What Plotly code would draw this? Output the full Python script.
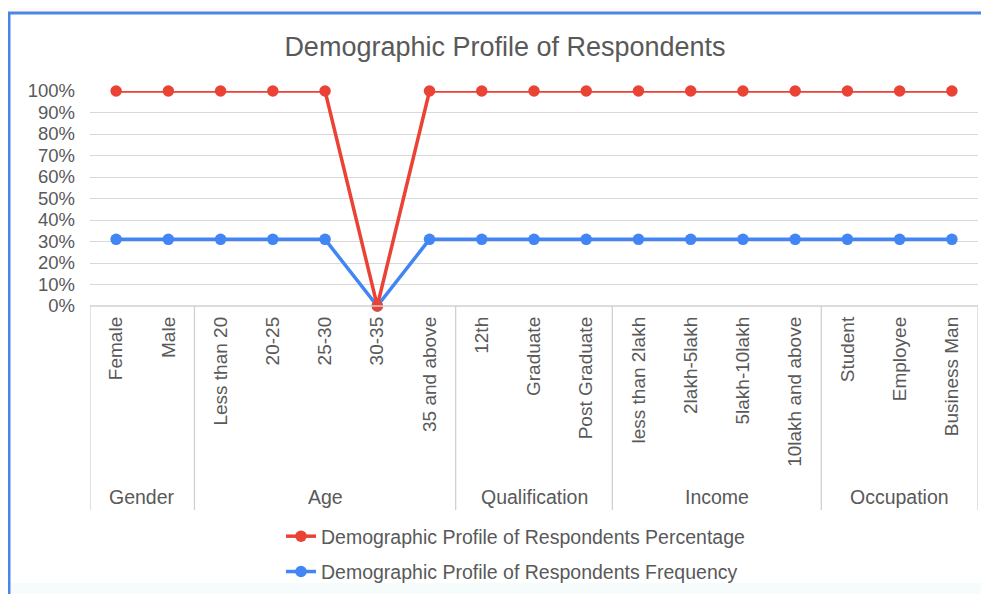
import plotly.graph_objects as go

categories = ["Female", "Male", "Less than 20", "20-25", "25-30", "30-35", "35 and above",
              "12th", "Graduate", "Post Graduate", "less than 2lakh", "2lakh-5lakh",
              "5lakh-10lakh", "10lakh and above", "Student", "Employee", "Business Man"]
groups = ["Gender", "Age", "Qualification", "Income", "Occupation"]
group_sizes = [2, 5, 3, 4, 3]
percentage = [1.00, 1.00, 1.00, 1.00, 1.00, 0.00, 1.00, 1.00, 1.00, 1.00,
              1.00, 1.00, 1.00, 1.00, 1.00, 1.00, 1.00]
frequency = [0.31, 0.31, 0.31, 0.31, 0.31, 0.00, 0.31, 0.31, 0.31, 0.31,
             0.31, 0.31, 0.31, 0.31, 0.31, 0.31, 0.31]
y_ticks = [i / 10 for i in range(11)]

OFF = 8  # body margin of the html page
W, H = 989 - OFF, 594 - OFF
# screen coordinates of the plot area
SL, SR, ST, SB = 90, 978, 91, 306
L, R, T, B = SL - OFF, SR - OFF, ST - OFF, SB - OFF
pw, ph = R - L, B - T


def sx(px):  # screen x -> paper
    return (px - OFF - L) / pw


def sy(py):  # screen y -> paper
    return (B - (py - OFF)) / ph


GRAY = "#595959"
FONT = "Liberation Sans, Arial, sans-serif"
RED = "#ea4335"
BLUE = "#4285f4"

xs = list(range(len(categories)))

fig = go.Figure()
fig.add_trace(go.Scatter(
    x=xs, y=frequency, mode="lines+markers",
    name="Demographic Profile of Respondents Frequency",
    line=dict(color=BLUE, width=3.5), marker=dict(color=BLUE, size=11.5),
    cliponaxis=False, legendgroup="b", legendrank=2))
fig.add_trace(go.Scatter(
    x=xs, y=percentage, mode="lines+markers",
    name="Demographic Profile of Respondents Percentage",
    line=dict(color=RED, width=3.5), marker=dict(color=RED, size=11.5),
    cliponaxis=False, legendgroup="a", legendrank=1))

shapes = []
# frame
shapes.append(dict(type="rect", xref="paper", yref="paper",
                   x0=sx(9), x1=sx(1010), y0=sy(620), y1=sy(13),
                   fillcolor="white", line=dict(color="#4a86e8", width=3),
                   layer="below"))
shapes.append(dict(type="rect", xref="paper", yref="paper",
                   x0=sx(11), x1=sx(1010), y0=sy(620), y1=sy(583),
                   fillcolor="#f6fbfb", line=dict(width=0), layer="below"))
# group separators
bounds = [-0.5]
for s in group_sizes:
    bounds.append(bounds[-1] + s)
for bx in bounds:
    shapes.append(dict(type="line", xref="x", yref="paper",
                       x0=bx, x1=bx, y0=0, y1=sy(510),
                       line=dict(color="#d0d0d0", width=1.3)))
shapes.append(dict(type="line", xref="paper", yref="paper",
                   x0=0, x1=1, y0=0, y1=0,
                   line=dict(color="#d0d0d0", width=1.3)))

annotations = []
for i, g in enumerate(groups):
    c = (bounds[i] + bounds[i + 1]) / 2
    annotations.append(dict(x=c, xref="x", y=sy(497), yref="paper",
                            text=g, showarrow=False,
                            font=dict(size=19.5, color=GRAY, family=FONT),
                            xanchor="center", yanchor="middle"))

fig.update_layout(
    width=W, height=H,
    margin=dict(l=L, r=W - R, t=T, b=H - B, autoexpand=False),
    paper_bgcolor="#fcfaf6", plot_bgcolor="white",
    title=dict(text="Demographic Profile of Respondents",
               x=(505 - OFF) / W, xanchor="center", y=1 - (47 - OFF) / H,
               yanchor="middle",
               font=dict(size=27, color=GRAY, family=FONT)),
    xaxis=dict(range=[-0.5, len(categories) - 0.5], tickmode="array",
               tickvals=xs, ticktext=categories, tickangle=-90,
               showgrid=False, zeroline=False, showline=False, ticks="",
               tickfont=dict(size=19, color=GRAY, family=FONT),
               ticklabelstandoff=6, automargin=False),
    yaxis=dict(range=[0, 1], tickmode="array", tickvals=y_ticks,
               tickformat=".0%", showgrid=True, gridcolor="#d9d9d9",
               gridwidth=1.3, zeroline=False, showline=False, ticks="",
               tickfont=dict(size=18.5, color=GRAY, family=FONT),
               ticklabelstandoff=14, automargin=False),
    legend=dict(x=sx(281), xanchor="left", y=sy(517), yanchor="top",
                orientation="v", bgcolor="rgba(0,0,0,0)",
                font=dict(size=19.5, color=GRAY, family=FONT),
                tracegroupgap=7),
    shapes=shapes, annotations=annotations,
    showlegend=True,
)

fig.write_html("out.html")
